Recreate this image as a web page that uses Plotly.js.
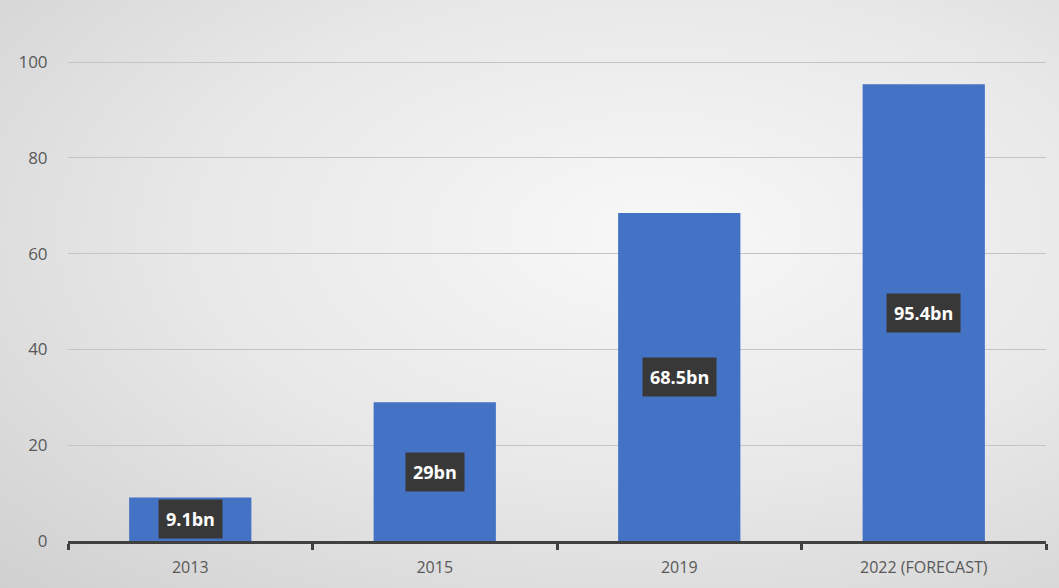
<!DOCTYPE html>
<html>
<head>
<meta charset="utf-8">
<script src="https://cdn.plot.ly/plotly-3.0.1.min.js"></script>
<style>
html,body{margin:0;padding:0;}
body{width:1059px;height:588px;background:radial-gradient(ellipse at 62% 40%, #f8f8f8 0%, #e8e8e8 50%, #d0d0d0 100%);}
#chart{width:1059px;height:588px;}
</style>
</head>
<body>
<div id="chart"></div>
<script>
var categories = ["2013", "2015", "2019", "2022 (FORECAST)"];
var values = [9.1, 29, 68.5, 95.4];
var valueLabels = ["9.1bn", "29bn", "68.5bn", "95.4bn"];
var yTicks = [0, 20, 40, 60, 80, 100];

var trace = {
  type: "bar",
  x: categories,
  y: values,
  marker: {color: "#4472C4"},
  hoverinfo: "none"
};

var annotations = categories.map(function(c, i){
  return {
    x: i, y: values[i] / 2, xref: "x", yref: "y",
    text: "<b>" + valueLabels[i] + "</b>",
    showarrow: false,
    font: {family: "Open Sans, Noto Sans, sans-serif", size: 18, color: "#ffffff"},
    bgcolor: "#383838",
    borderpad: 7
  };
});

var layout = {
  width: 1059, height: 588,
  margin: {l: 68, r: 13, t: 0, b: 47},
  paper_bgcolor: "rgba(0,0,0,0)",
  plot_bgcolor: "rgba(0,0,0,0)",
  bargap: 0.5,
  showlegend: false,
  xaxis: {
    type: "category",
    range: [-0.5, categories.length - 0.5],
    autorange: false,
    showgrid: false,
    showline: true, linecolor: "#404040", linewidth: 3,
    ticks: "outside", tickson: "boundaries", ticklen: 6, tickwidth: 3, tickcolor: "#404040",
    ticklabelstandoff: 10,
    tickfont: {family: "Open Sans, Noto Sans, sans-serif", size: 16, color: "#595959"}
  },
  yaxis: {
    range: [0, 113],
    autorange: false,
    tickvals: yTicks,
    ticktext: yTicks.map(String),
    showgrid: true, gridcolor: "#c4c4c4", gridwidth: 1,
    zeroline: false, showline: false,
    ticks: "outside", ticklen: 16, tickcolor: "rgba(0,0,0,0)",
    tickfont: {family: "Open Sans, Noto Sans, sans-serif", size: 17, color: "#595959"}
  },
  annotations: annotations
};

Plotly.newPlot("chart", [trace], layout, {displayModeBar: false, staticPlot: true});
</script>
</body>
</html>
